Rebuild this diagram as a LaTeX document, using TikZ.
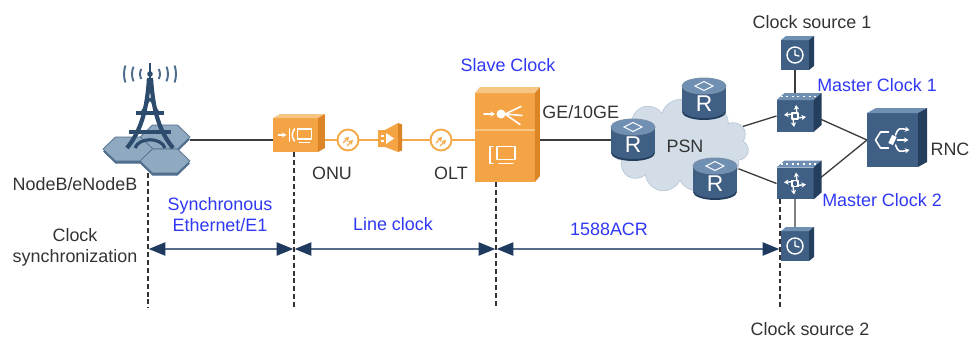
\documentclass[tikz,border=0pt]{standalone}
\usepackage{fontspec}
\setmainfont{Liberation Sans}
\usepackage{tikz}
\usetikzlibrary{arrows.meta,shapes.symbols,positioning}

\definecolor{devblue}{HTML}{3F5F84}
\definecolor{devtop}{HTML}{7090B3}
\definecolor{devside}{HTML}{243E5D}
\definecolor{orfront}{HTML}{F4A445}
\definecolor{ortop}{HTML}{F8C684}
\definecolor{orside}{HTML}{DC8526}
\definecolor{fibre}{HTML}{F3AA4A}
\definecolor{hexfill}{HTML}{8FA9C0}
\definecolor{hexedge}{HTML}{4E6C8C}
\definecolor{towerblue}{HTML}{2D4B6D}
\definecolor{cloudfill}{HTML}{D2DDE7}
\definecolor{cloudedge}{HTML}{B9C8D6}
\definecolor{labelblue}{HTML}{2F38F2}
\definecolor{spannavy}{HTML}{1E3B5F}
\definecolor{textgray}{HTML}{333333}
\definecolor{linkgray}{HTML}{3C3C3C}

\pgfdeclarelayer{background}
\pgfsetlayers{background,main}

% one unit = one pixel of the drawing, y pointing down
\tikzset{every picture/.style={x=0.02cm, y=-0.02cm}}
\tikzset{txt/.style={font=\fontsize{10.2}{12.2}\selectfont, text=textgray, inner sep=0pt, align=center}}
\tikzset{bluetxt/.style={txt, text=labelblue}}
\tikzset{dev/.style={inner sep=0pt, outer sep=0pt}}
\tikzset{link/.style={draw=linkgray, line width=0.75pt}}
\tikzset{fibreline/.style={draw=fibre, line width=1.1pt}}
\tikzset{border/.style={draw=textgray, line width=0.85pt, dash pattern=on 2.8pt off 1.7pt}}
\tikzset{span/.style={draw=spannavy!75!white, line width=1pt, shorten <=0.4pt, shorten >=0.4pt,
    {Triangle[length=9.5pt,width=7.5pt,color=spannavy]}-{Triangle[length=9.5pt,width=7.5pt,color=spannavy]}}}
\tikzset{icon/.style={draw=white, line width=0.9pt, line cap=round, line join=round}}
\tikzset{tip/.style={-{Stealth[length=2.6pt,width=3pt]}}}

% top and side faces of a box node: node, top, side, dx, dy
\newcommand{\faces}[5]{%
  \fill[#2] (#1.north west) -- ++(#4,-#5) -- ([shift={(#4,-#5)}]#1.north east) -- (#1.north east) -- cycle;
  \fill[#3] (#1.north east) -- ++(#4,-#5) -- ([shift={(#4,-#5)}]#1.south east) -- (#1.south east) -- cycle;
}

\begin{document}
\begin{tikzpicture}
\useasboundingbox (0,0) rectangle (971,338);

% NodeB: hexagon cells, tower and radio waves
\node[dev, minimum width=1.76cm, minimum height=0.96cm] (nodeb) at (146,149) {};
\foreach \hx/\hy in {165/137, 128/149, 165/161} {
  \fill[hexedge] (\hx-25,\hy+2.5) -- (\hx-12.5,\hy-9.5) -- (\hx+12.5,\hy-9.5) -- (\hx+25,\hy+2.5)
     -- (\hx+12.5,\hy+14.5) -- (\hx-12.5,\hy+14.5) -- cycle;
  \filldraw[fill=hexfill, draw=hexedge, line width=0.4pt] (\hx-25,\hy) -- (\hx-12.5,\hy-12) -- (\hx+12.5,\hy-12)
     -- (\hx+25,\hy) -- (\hx+12.5,\hy+12) -- (\hx-12.5,\hy+12) -- cycle;
}
\draw[towerblue, line width=1.5pt] (150,63) -- (150,80);
\fill[towerblue] (150,74) circle[radius=2.8];
\draw[towerblue, line width=2.4pt] (149,78) .. controls (147,112) and (140,132) .. (127,148);
\draw[towerblue, line width=2.4pt] (151,78) .. controls (153,112) and (160,132) .. (173,148);
\draw[towerblue, line width=2.6pt] (136,113) -- (164,113);
\draw[towerblue, line width=2.8pt] (129,132) -- (171,132);
\draw[towerblue, line width=1.8pt] (135,148) .. controls (139,137) and (161,137) .. (165,148);
\draw[towerblue, line width=1.1pt] (141,113) -- (150,99) -- (159,113);
\foreach \r/\a in {10/30, 18/24, 26/19} {
  \draw[hexedge, line width=1.1pt] (150,74) ++(180-\a:\r) arc[start angle=180-\a, end angle=180+\a, radius=\r];
  \draw[hexedge, line width=1.1pt] (150,74) ++(-\a:\r) arc[start angle=-\a, end angle=\a, radius=\r];
}
\node[txt] (nodeblbl) at (75,184) {NodeB/eNodeB};

% ONU
\node[dev, fill=orfront, minimum width=0.9cm, minimum height=0.68cm] (onu) at (295.5,135) {};
\faces{onu}{ortop}{orside}{7}{4}
\begin{scope}[shift={(onu.center)}]
  \draw[icon, tip] (-17,0) -- (-9,0);
  \draw[icon] (-6,-6) -- (-6,6);
  \draw[icon] (-1,-6) .. controls (-4,-2) and (-4,2) .. (-1,6);
  \draw[icon] (2,-6) rectangle (16,4);
  \draw[icon] (4,7.5) -- (14,7.5);
\end{scope}
\node[txt] (onulbl) at (332,173) {ONU};

% splitters and amplifier on the fibre
\foreach \n/\px in {c1/348, c2/441} {
  \node[circle, draw=fibre, fill=white, line width=1.1pt, minimum size=0.42cm, inner sep=0pt] (\n) at (\px,140) {};
  \begin{scope}[shift={(\n.center)}]
    \draw[fibre, line width=0.7pt, tip] (-5,3) -- (1,-3);
    \draw[fibre, line width=0.7pt, tip] (-1,6) -- (5,0);
  \end{scope}
}
\node[dev, minimum width=0.48cm, minimum height=0.6cm] (amp) at (390,140) {};
\fill[orfront] (378,130) -- (385,130) -- (398,123) -- (398,152) -- (385,147) -- (378,147) -- cycle;
\fill[orside] (398,123) -- (402,124.5) -- (402,150.5) -- (398,152) -- cycle;
\fill[white] (386,133) -- (394,138.5) -- (386,144) -- cycle;
\draw[white, line width=0.7pt] (380.5,136) -- (384,136) (380.5,141) -- (384,141);
\node[txt] (oltlbl) at (451,173) {OLT};

% slave clock
\node[dev, fill=orfront, minimum width=1.2cm, minimum height=1.78cm] (slave) at (505,137.5) {};
\faces{slave}{ortop}{orside}{5}{6}
\begin{scope}[shift={(slave.center)}]
  \draw[ortop, line width=0.8pt] (-30,-7.5) -- (30,-7.5);
  \draw[icon, tip] (-21,-23.5) -- (-10,-23.5);
  \fill[white] (-4,-23.5) circle[radius=4.5];
  \draw[icon] (0,-23.5) -- (16,-31) (0,-23.5) -- (17,-22) (0,-23.5) -- (15,-13);
  \draw[icon] (-12,9) -- (-15,9) -- (-15,26) -- (-12,26);
  \draw[icon] (-8,9) rectangle (10,22);
  \draw[icon] (-6,26) -- (8,26);
\end{scope}
\node[bluetxt] (slavelbl) at (508,65) {Slave Clock};
\node[txt, anchor=west] (gelbl) at (542,112) {GE/10GE};

% PSN with its routers
\node[cloud, cloud puffs=11, aspect=1.47, fill=cloudfill, draw=cloudedge, inner sep=0pt,
      minimum width=2.75cm, minimum height=1.86cm] (psn) at (680,146) {};
\foreach \n/\px/\py in {r1/633/140, r2/704/99, r3/715/179} {
  \node[dev, minimum width=0.88cm, minimum height=0.84cm] (\n) at (\px,\py) {};
  \begin{scope}[shift={(\n.center)}]
    \fill[devside] (0,13) ellipse[x radius=22, y radius=8];
    \fill[devblue] (-22,-13) rectangle (22,13);
    \fill[devblue] (0,12) ellipse[x radius=21, y radius=7];
    \filldraw[fill=devtop, draw=devblue!70!white, line width=0.5pt] (0,-13) ellipse[x radius=22, y radius=8];
    \draw[white, line width=0.6pt] (-9,-13) -- (0,-17.5) -- (9,-13) -- (0,-8.5) -- cycle;
    \node[font=\fontsize{13}{13}\selectfont, text=white, inner sep=0pt] (\n-R) at (0,5) {R};
  \end{scope}
}
\node[txt] (psnlbl) at (685,146) {PSN};

% master clocks, clock sources and RNC
\foreach \n/\py in {mc1/116, mc2/183.5} {
  \node[dev, fill=devblue, minimum width=0.74cm, minimum height=0.64cm] (\n) at (795,\py) {};
  \faces{\n}{devtop}{devside}{8}{7}
  \draw[white, line width=0.6pt, dash pattern=on 1.2pt off 2pt] ([shift={(4,-3.5)}]\n.north west) -- ([shift={(4,-3.5)}]\n.north east);
  \begin{scope}[shift={(\n.center)}]
    \draw[icon, line width=0.8pt, tip] (-2,-2) -- (-11,-1);
    \draw[icon, line width=0.8pt, tip] (2,2) -- (11,1);
    \draw[icon, line width=0.8pt, tip] (2,-2) -- (1,-11);
    \draw[icon, line width=0.8pt, tip] (-2,2) -- (-1,11);
    \draw[icon, line width=0.8pt] (-3,-3) rectangle (3,3);
  \end{scope}
}
\foreach \n/\py in {cs1/55, cs2/246} {
  \node[dev, fill=devblue, minimum width=0.56cm, minimum height=0.6cm] (\n) at (795,\py) {};
  \faces{\n}{devtop}{devside}{5}{4}
  \begin{scope}[shift={(\n.center)}]
    \draw[icon, line width=0.8pt] (0,0) circle[radius=8];
    \draw[icon, line width=0.8pt] (0,-5) -- (0,0) -- (4,1);
  \end{scope}
}
\node[dev, fill=devblue, minimum width=1.02cm, minimum height=1.08cm] (rnc) at (892.5,140) {};
\faces{rnc}{devtop}{devside}{9}{5}
\begin{scope}[shift={(rnc.center)}]
  \draw[icon] (-4,-8) -- (-12,-8) -- (-17,0) -- (-12,8) -- (-4,8);
  \fill[white, rotate=-25] (-2.5,-4.5) rectangle (2.5,4.5);
  \draw[icon, tip] (3,-5) .. controls (6,-12) .. (17,-10);
  \draw[icon, tip] (3,5) .. controls (6,12) .. (17,10);
  \draw[icon, tip] (5,0) -- (16,0);
\end{scope}

\node[txt] (cs1lbl) at (812,22) {Clock source 1};
\node[txt] (cs2lbl) at (810,329) {Clock source 2};
\node[bluetxt] (mc1lbl) at (877,85) {Master Clock 1};
\node[bluetxt] (mc2lbl) at (882,200) {Master Clock 2};
\node[txt] (rnclbl) at (950,149) {RNC};

% links, kept under the devices
\begin{pgfonlayer}{background}
  \draw[link] (nodeb.east |- c1) -- (onu.west |- c1);
  \draw[fibreline] (onu.east |- c1) -- (c1) -- (amp) -- (c2) -- (slave.west |- c2);
  \draw[link] (slave.east |- r1) -- (r1);
  \draw[link] (psn) -- (mc1.west);
  \draw[link] (psn) -- (mc2.west);
  \draw[link] (mc1.east) -- (rnc.west);
  \draw[link] (mc2.east) -- (rnc.west);
  \draw[link] (cs1) -- (mc1);
  \draw[link, draw=gray, line width=1.3pt] (mc2) -- (cs2);
\end{pgfonlayer}

% clock synchronization sections
\coordinate (b1) at (148,308);
\coordinate (b2) at (294,308);
\coordinate (b3) at (496,308);
\coordinate (b4) at (780,308);
\coordinate (lvl) at (0,249);
\foreach \b/\d in {b1/nodeb, b2/onu, b3/slave, b4/mc2}
  \draw[border] (\b |- \d.south) -- (\b);
\draw[span] (b1 |- lvl) -- (b2 |- lvl);
\draw[span] (b2 |- lvl) -- (b3 |- lvl);
\draw[span] (b3 |- lvl) -- (b4 |- lvl);

\node[txt] (synclbl) at (75,247.5) {Clock\\synchronization};
\node[bluetxt] (ethlbl) at (220,214.5) {Synchronous\\Ethernet/E1};
\node[bluetxt] (linelbl) at (393,224) {Line clock};
\node[bluetxt] (acrlbl) at (609,229.5) {1588ACR};
\end{tikzpicture}
\end{document}
